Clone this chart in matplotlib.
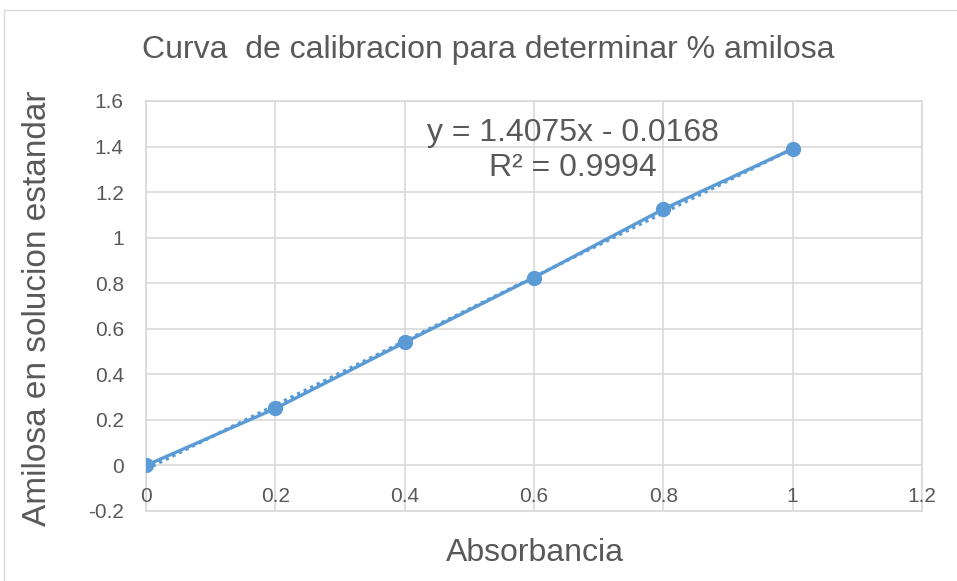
import matplotlib.pyplot as plt
import numpy as np
from matplotlib.patches import Rectangle

absorbancia = [0, 0.2, 0.4, 0.6, 0.8, 1.0]
amilosa = [0.0, 0.25, 0.54, 0.825, 1.125, 1.39]
slope, intercept = 1.4075, -0.0168
xticks = [0, 0.2, 0.4, 0.6, 0.8, 1, 1.2]
yticks = [-0.2, 0, 0.2, 0.4, 0.6, 0.8, 1, 1.2, 1.4, 1.6]

plt.rcParams['font.family'] = ['Liberation Sans', 'DejaVu Sans']
blue = '#5b9bd5'
grid = '#d9d9d9'
txt = '#595959'

fig = plt.figure(figsize=(9.57, 5.81), dpi=100)
fig.patches.append(Rectangle((4 / 957, -0.01), 1.02, 1 - 10 / 581 + 0.01,
                             transform=fig.transFigure, fill=False,
                             edgecolor='#d9d9d9', linewidth=1))
ax = fig.add_axes([146 / 957, 1 - 511 / 581, 776 / 957, 410 / 581])

ax.set_xlim(0, 1.2)
ax.set_ylim(-0.2, 1.6)
ax.set_xticks(xticks)
ax.set_yticks(yticks)
ax.grid(True, color=grid, linewidth=1.2)
ax.set_axisbelow(True)
for s in ax.spines.values():
    s.set_color(grid)
    s.set_linewidth(1.2)
ax.tick_params(length=0, labelsize=15, labelcolor=txt)
ax.set_xticklabels([])
ax.set_yticklabels(['-0.2', '0', '0.2', '0.4', '0.6', '0.8', '1', '1.2', '1.4', '1.6'])
ax.tick_params(axis='y', pad=16)
for xv in xticks:
    ax.text(xv, -0.135, ('%g' % xv), ha='center', va='center', fontsize=15,
            color=txt)

# trendline (dotted)
xt = np.array([0, 1.0])
ax.plot(xt, slope * xt + intercept, color=blue, linewidth=2.4,
        linestyle=(0, (1, 1.2)), zorder=3)
ax.plot(absorbancia, amilosa, color=blue, linewidth=2.4, marker='o',
        markersize=10, zorder=4)

ax.text(0.66, 1.46, 'y = 1.4075x - 0.0168', ha='center', va='center',
        fontsize=23, color=txt)
ax.text(0.66, 1.305, 'R² = 0.9994', ha='center', va='center',
        fontsize=23, color=txt)

fig.text(488 / 957, 1 - 50 / 581, 'Curva  de calibracion para determinar % amilosa',
         ha='center', va='center', fontsize=23, color=txt)
fig.text(535 / 957, 1 - 553 / 581, 'Absorbancia', ha='center', va='center',
         fontsize=23, color=txt)
fig.text(38 / 957, 1 - 308 / 581, 'Amilosa en solucion estandar', ha='center',
         va='center', rotation=90, fontsize=24, color=txt)

fig.savefig('out.png', dpi=100)
